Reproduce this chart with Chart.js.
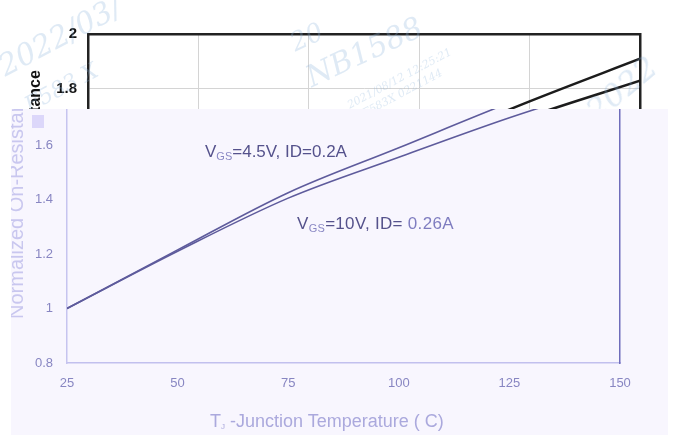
<!DOCTYPE html>
<html>
<head>
<meta charset="utf-8">
<script src="https://cdn.jsdelivr.net/npm/chart.js@4"></script>
<style>
  html, body { margin: 0; padding: 0; background: #fff; }
  #stage { position: relative; width: 673px; height: 435px; overflow: hidden; background: #fff; }
  #upper { position: absolute; left: 0; top: 0; }
  .wm { position: absolute; color: rgba(140, 180, 220, 0.28); font-family: "DejaVu Serif", serif;
        font-style: italic; white-space: nowrap; transform-origin: left top; pointer-events: none; }
  #pane { position: absolute; left: 11px; top: 109px; width: 657px; height: 326px;
          overflow: hidden; background: #f8f6fe; }
  #lower { position: absolute; left: -11px; top: -109px; }
  .note { position: absolute; font-family: "Liberation Sans", Arial, sans-serif; font-size: 17px;
          color: #55528c; white-space: nowrap; line-height: 1; }
  .note sub { font-size: 11px; color: #8a88c4; vertical-align: -3px; }
  .soft { color: #7f7dc0; }
  #xtitle { position: absolute; left: 210px; top: 412px; font-family: "Liberation Sans", Arial, sans-serif;
            font-size: 18px; color: #aba9dd; white-space: nowrap; line-height: 1; }
  #xtitle sub { font-size: 8px; vertical-align: -2px; }
  #chip { position: absolute; left: 32px; top: 115px; width: 12px; height: 13px; background: #dcd7fa; }
</style>
</head>
<body>
<div id="stage">
  <canvas id="upper" width="673" height="330"></canvas>
  <div class="wm" style="left:-8px;top:52px;font-size:30px;transform:rotate(-28deg);">2022/03/</div>
  <div class="wm" style="left:20px;top:95px;font-size:22px;transform:rotate(-28deg);">F583 X</div>
  <div class="wm" style="left:300px;top:62px;font-size:30px;transform:rotate(-25deg);">NB1588</div>
  <div class="wm" style="left:285px;top:30px;font-size:26px;transform:rotate(-25deg);">20</div>
  <div class="wm" style="left:345px;top:100px;font-size:11px;transform:rotate(-28deg);">2021/08/12 12:25:21</div>
  <div class="wm" style="left:360px;top:108px;font-size:11px;transform:rotate(-28deg);">F583X 0221144</div>
  <div class="wm" style="left:578px;top:100px;font-size:32px;transform:rotate(-40deg);">2022</div>
  <div id="pane"><canvas id="lower" width="673" height="435"></canvas></div>
  <div id="chip"></div>
  <div class="note" style="left:205px;top:143px;">V<sub>GS</sub>=4.5V, ID=0.2A</div>
  <div class="note" style="left:297px;top:215px;letter-spacing:0.3px;">V<sub>GS</sub>=10V, ID= <span class="soft">0.26A</span></div>
  <div id="xtitle">T<sub>J</sub> -Junction Temperature ( C)</div>
</div>
<script>
// Junction temperature (°C) and normalized on-resistance for the two bias conditions
const temps = [25, 50, 75, 100, 125, 150];
const vgs45 = [1.0, 1.215, 1.425, 1.59, 1.755, 1.91];   // VGS=4.5V, ID=0.2A
const vgs10 = [1.0, 1.21, 1.405, 1.555, 1.70, 1.83];    // VGS=10V, ID=0.26A
const tempTicks = { min: 25, max: 150, step: 25 };
const resTicks = { min: 0.8, max: 2.0, step: 0.2 };
const axisTitleY = 'Normalized On-Resistance';

const pts = vals => temps.map((t, i) => ({ x: t, y: vals[i] }));
const FONT = '"Liberation Sans", Arial, sans-serif';
const fmt = v => String(Number(v.toFixed(1)));   // 1.0 -> "1", 1.80 -> "1.8"

function series(color, width) {
  return [vgs45, vgs10].map(v => ({
    data: pts(v), borderColor: color, borderWidth: width, pointRadius: 0,
    cubicInterpolationMode: 'monotone', fill: false
  }));
}
const common = {
  responsive: false, animation: false, devicePixelRatio: 1,
  plugins: { legend: { display: false }, tooltip: { enabled: false } },
  events: []
};

// Framed black plot (upper layer)
new Chart(document.getElementById('upper'), {
  type: 'line',
  data: { datasets: series('#1c1c1c', 2.5) },
  options: Object.assign({}, common, {
    layout: { padding: 0 },
    scales: {
      x: { type: 'linear', min: tempTicks.min, max: tempTicks.max,
           ticks: { display: false, stepSize: tempTicks.step },
           grid: { color: '#d4d4d4', lineWidth: 1, drawTicks: false },
           border: { color: '#222', width: 2.5 },
           afterFit(s) { s.height = 21; } },
      xTop: { type: 'linear', position: 'top', min: tempTicks.min, max: tempTicks.max,
           ticks: { display: false }, grid: { display: false, drawTicks: false },
           border: { color: '#222', width: 2.5 },
           afterFit(s) { s.height = 34; } },
      y: { type: 'linear', min: 1.0, max: resTicks.max,
           ticks: { stepSize: resTicks.step, color: '#111', padding: 11, callback: fmt,
                    font: { family: FONT, size: 15, weight: 'bold' } },
           grid: { color: '#d4d4d4', lineWidth: 1, drawTicks: false },
           border: { color: '#222', width: 2.5 },
           title: { display: true, text: axisTitleY, color: '#111',
                    font: { family: FONT, size: 16, weight: 'bold' }, padding: { top: 26, bottom: 0 } },
           afterFit(s) { s.width = 88; } },
      yRight: { type: 'linear', position: 'right', min: 1.0, max: resTicks.max,
           ticks: { display: false }, grid: { display: false, drawTicks: false },
           border: { color: '#222', width: 2.5 },
           afterFit(s) { s.width = 33; } }
    }
  })
});

// Lavender plot (lower layer)
new Chart(document.getElementById('lower'), {
  type: 'line',
  data: { datasets: series('#5e5b9c', 1.6) },
  options: Object.assign({}, common, {
    layout: { padding: { top: 36 } },
    scales: {
      x: { type: 'linear', min: tempTicks.min, max: tempTicks.max,
           ticks: { stepSize: tempTicks.step, color: '#8886c2', padding: 13,
                    font: { family: FONT, size: 13 } },
           grid: { display: false, drawTicks: false },
           border: { color: '#c2c0ee', width: 1.5 },
           afterFit(s) { s.height = 72; } },
      y: { type: 'linear', min: resTicks.min, max: resTicks.max,
           ticks: { stepSize: resTicks.step, color: '#8886c2', padding: 14, callback: fmt,
                    font: { family: FONT, size: 13 } },
           grid: { display: false, drawTicks: false },
           border: { color: '#c6c4ef', width: 1.5 },
           title: { display: true, text: axisTitleY, color: '#c9c7ef',
                    font: { family: FONT, size: 20 }, padding: { top: 5, bottom: 0 } },
           afterFit(s) { s.width = 67; } },
      yRight: { type: 'linear', position: 'right', min: resTicks.min, max: resTicks.max,
           ticks: { display: false }, grid: { display: false, drawTicks: false },
           border: { color: '#6f6dbb', width: 1.5 },
           afterFit(s) { s.width = 53; } }
    }
  })
});
</script>
</body>
</html>
